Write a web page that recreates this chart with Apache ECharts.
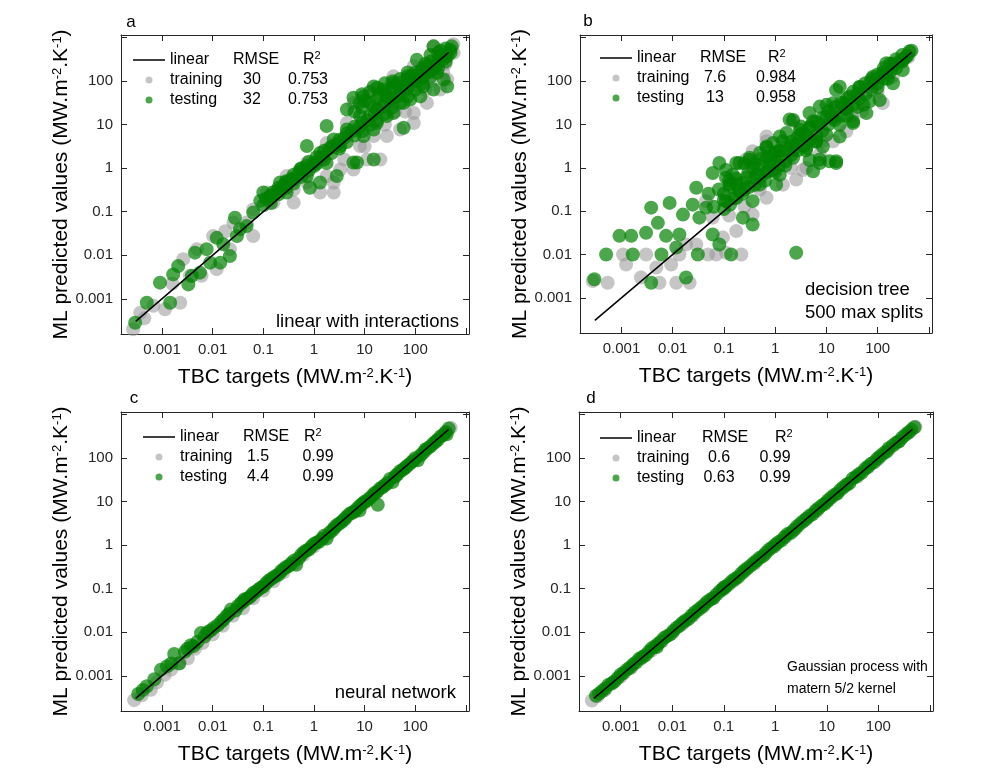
<!DOCTYPE html>
<html>
<head>
<meta charset="utf-8">
<script src="https://cdn.jsdelivr.net/npm/echarts@6/dist/echarts.min.js"></script>
<style>
  html, body { margin: 0; padding: 0; background: #fff; }
  #chart { width: 997px; height: 768px; }
</style>
</head>
<body>
<div id="chart"></div>
<script>
// tick labels, decades -3..2
const tickLabels = ['0.001', '0.01', '0.1', '1', '10', '100'];
const axisMin = 1.55e-4;
const axisMax = 1150;

// panel texts
const panelLetters = ['a', 'b', 'c', 'd'];
const panelNotes = ['linear with interactions', 'decision tree\n500 max splits', 'neural network', 'Gaussian process with\nmatern 5/2 kernel'];
const rmseTrain = ['30', '7.6', '1.5', '0.6'];
const rmseTest = ['32', '13', '4.4', '0.63'];
const r2Train = ['0.753', '0.984', '0.99', '0.99'];
const r2Test = ['0.753', '0.958', '0.99', '0.99'];

// 1:1 line ends (log10 of value)
const lineEnds = [[-3.52, -3.52], [2.66, 2.66]];

// scatter points as [log10 target, log10 predicted]
const aTrain = [[-3.57,-3.70],[-3.43,-3.32],[-3.35,-3.45],[-3.17,-3.16],[-2.94,-3.24],[-2.64,-3.09],[-2.8,-2.65],[-2.58,-2.09],[-2.31,-1.86],[-2.22,-2.47],[-2.45,-2.47],[-1.92,-2.32],[-1.99,-1.56],[-1.66,-1.86],[-1.75,-1.45],[-1.59,-1.25],[-1.33,-1.25],[-1.20,-0.95],[-1.20,-1.56],[-0.93,-0.56],[-0.80,-0.79],[-0.67,-0.49],[-0.54,-0.18],[-0.40,-0.49],[-0.40,-0.79],[-0.2,-0.05],[-0.14,-0.33],[-0.14,0.12],[0.12,-0.56],[0.25,-0.18],[0.25,0.58],[0.39,-0.56],[0.39,-0.33],[0.52,-0.03],[0.65,1.04],[0.78,-0.03],[0.78,1.50],[0.91,0.51],[1.05,0.20],[1.18,0.74],[1.18,1.81],[1.31,0.20],[1.44,0.74],[1.57,2.11],[1.6,1.3],[1.70,0.89],[1.97,1.04],[1.97,1.27],[1.97,2.34],[2.23,1.50],[2.3,2.0],[2.36,2.80],[2.49,1.81],[2.6,2.4],[2.63,2.04],[2.76,2.65],[0.6,0.2],[1.0,0.5],[1.4,1.0],[1.8,1.3],[2.2,1.8],[2.55,2.2],[2.75,2.85]];
const aTest = [[-3.53,-3.55],[-3.30,-3.09],[-3.04,-2.63],[-2.84,-3.09],[-2.78,-2.44],[-2.68,-2.25],[-2.48,-2.67],[-2.41,-2.47],[-2.35,-1.94],[-2.25,-2.40],[-2.12,-1.86],[-2.05,-2.17],[-1.92,-1.60],[-1.85,-2.17],[-1.79,-1.75],[-1.66,-2.02],[-1.56,-1.14],[-1.52,-1.56],[-1.46,-1.40],[-1.33,-1.33],[-1.20,-1.02],[-1.06,-0.75],[-1.00,-0.56],[-0.87,-0.64],[-0.73,-0.53],[-0.67,-0.33],[-0.54,-0.56],[-0.54,-0.33],[-0.40,-0.26],[-0.27,-0.03],[-0.14,-0.18],[-0.14,0.51],[-0.08,-0.45],[-0.01,0.12],[0.12,0.35],[0.12,-0.33],[0.25,0.12],[0.25,0.97],[0.39,0.66],[0.45,-0.18],[0.52,0.51],[0.65,0.89],[0.65,1.35],[0.78,1.62],[0.78,0.13],[0.85,0.13],[0.91,1.20],[0.98,1.65],[0.98,0.74],[1.18,1.42],[1.18,1.88],[1.18,0.89],[1.18,0.20],[1.24,1.04],[1.37,1.81],[1.44,1.65],[1.44,1.20],[1.57,1.96],[1.57,1.27],[1.70,1.88],[1.77,1.50],[1.77,0.93],[1.84,2.11],[1.90,1.58],[1.97,2.11],[2.03,2.49],[2.10,2.23],[2.10,1.65],[2.16,1.88],[2.23,2.34],[2.36,2.27],[2.36,1.81],[2.36,2.80],[2.43,2.19],[2.49,2.57],[2.56,2.04],[2.63,1.88],[2.63,2.57],[2.69,2.72],
  [-1.0,-0.85],[-0.95,-0.7],[-0.85,-0.65],[-0.85,-0.8],[-0.7,-0.6],[-0.7,-0.45],[-0.55,-0.45],[-0.55,-0.3],[-0.4,-0.35],[-0.4,-0.15],[-0.25,-0.2],[-0.25,0.0],[-0.1,-0.05],[-0.1,0.15],[0.05,0.1],[0.05,0.25],[0.2,0.2],[0.2,0.4],[0.35,0.35],[0.35,0.5],[0.5,0.45],[0.5,0.65],[0.65,0.6],[0.65,0.8],[0.8,0.75],[0.8,0.95],[0.8,1.3],[0.95,0.85],[0.95,1.05],[0.95,1.4],[0.95,1.7],[1.1,1.0],[1.1,1.2],[1.1,1.5],[1.1,1.75],[1.25,1.1],[1.25,1.35],[1.25,1.6],[1.25,1.85],[1.4,1.25],[1.4,1.5],[1.4,1.75],[1.4,1.95],[1.55,1.4],[1.55,1.6],[1.55,1.85],[1.55,2.0],[1.7,1.5],[1.7,1.75],[1.7,1.95],[1.7,2.05],[1.85,1.65],[1.85,1.85],[1.85,2.05],[1.85,2.2],[2.0,1.8],[2.0,2.0],[2.0,2.2],[2.15,1.95],[2.15,2.1],[2.15,2.3],[2.3,2.1],[2.3,2.25],[2.3,2.45],[2.3,2.6],[2.45,2.3],[2.45,2.45],[2.45,2.65],[2.6,2.45],[2.6,2.6],[2.6,2.75],[2.7,2.65],[2.72,2.8],
  [0.0,0.05],[0.15,0.25],[0.3,0.45],[0.45,0.55],[0.6,0.7],[0.75,0.85],[0.9,0.95],[1.05,1.1],[1.2,1.25],[1.35,1.4],[1.5,1.55],[1.65,1.65],[1.8,1.8],[1.95,1.9],[2.1,2.05],[2.25,2.2],[2.4,2.35],[2.55,2.5],[1.0,1.55],[1.3,1.7],[1.6,1.9],[1.9,2.1],[2.2,2.4],[2.5,2.7],[0.9,1.5],[-0.8,-0.55],[-0.6,-0.4],[-0.45,-0.25],[-0.3,-0.1],[-0.15,0.05]];

const bTrain = [[-3.56,-2.61],[-3.27,-2.65],[-2.97,-2.00],[-2.91,-2.23],[-2.62,-2.53],[-2.52,-2.00],[-2.32,-2.30],[-2.26,-2.65],[-2.03,-2.23],[-1.93,-2.65],[-1.87,-2.00],[-1.74,-1.77],[-1.67,-2.65],[-1.54,-1.77],[-1.35,-0.77],[-1.31,-2.00],[-1.22,-1.15],[-1.15,-2.00],[-1.02,-1.61],[-0.96,-1.96],[-0.76,-1.46],[-0.66,-2.00],[-0.57,0.19],[-0.44,-1.08],[-0.44,0.38],[-0.17,-0.69],[-0.17,0.61],[-0.17,0.72],[0.15,-0.39],[0.35,1.07],[0.41,-0.27],[0.54,-0.05],[0.61,0.00],[0.87,0.31],[1.13,0.61],[1.39,0.84],[1.7,1.3],[2.10,1.49],[2.3,2.1],[2.6,2.55],[-0.9,-1.1],[-0.6,-0.9],[-0.3,-0.5],[0.3,0.0],[0.9,0.6],[1.5,1.2],[2.0,1.75]];
const bTest = [[-3.53,-2.57],[-3.30,-2.00],[-3.04,-1.57],[-2.81,-1.57],[-2.78,-2.00],[-2.52,-1.50],[-2.42,-0.92],[-2.42,-2.65],[-2.29,-1.27],[-2.22,-2.00],[-2.13,-1.57],[-2.06,-0.81],[-1.93,-1.84],[-1.87,-1.54],[-1.80,-1.08],[-1.74,-2.53],[-1.61,-0.85],[-1.54,-0.46],[-1.51,-2.00],[-1.48,-1.15],[-1.35,-0.92],[-1.3,-0.6],[-1.22,-1.54],[-1.22,-0.12],[-1.2,-0.9],[-1.1,-0.5],[-1.09,0.11],[-1.09,-1.77],[-1.0,-0.6],[-0.96,-0.77],[-0.96,-0.05],[-0.96,-0.23],[-0.9,-0.3],[-0.89,-0.39],[-0.86,-2.00],[-0.83,-0.16],[-0.8,-0.7],[-0.76,0.11],[-0.76,-0.39],[-0.70,-0.54],[-0.70,0.11],[-0.63,-1.15],[-0.6,-0.5],[-0.6,0.1],[-0.57,-0.23],[-0.50,0.23],[-0.50,0.18],[-0.44,-0.77],[-0.44,-1.31],[-0.44,0.00],[-0.4,-0.4],[-0.30,-0.39],[-0.30,0.34],[-0.3,0.05],[-0.2,-0.3],[-0.17,-0.08],[-0.17,0.46],[-0.17,0.49],[-0.1,0.2],[-0.04,0.07],[-0.04,0.57],[0.0,-0.1],[0.0,0.35],[0.02,-0.39],[0.09,0.38],[0.09,0.72],[0.09,-0.16],[0.15,0.61],[0.2,0.05],[0.22,0.80],[0.28,1.11],[0.3,0.5],[0.35,0.23],[0.35,1.10],[0.35,0.41],[0.41,-1.96],[0.48,0.76],[0.48,0.87],[0.5,0.95],[0.6,0.4],[0.61,0.46],[0.67,0.92],[0.67,1.26],[0.67,0.18],[0.74,1.07],[0.74,-0.08],[0.8,0.6],[0.80,0.61],[0.87,0.19],[0.87,1.41],[0.87,0.11],[0.93,0.49],[1.0,0.76],[1.0,1.18],[1.0,1.45],[1.06,0.15],[1.13,1.15],[1.13,1.49],[1.19,0.15],[1.19,1.79],[1.19,0.11],[1.26,0.99],[1.26,1.87],[1.26,0.72],[1.3,1.4],[1.39,1.38],[1.4,1.2],[1.45,1.64],[1.52,1.07],[1.52,1.03],[1.6,1.4],[1.65,1.87],[1.72,1.45],[1.78,1.26],[1.84,1.53],[1.9,2.0],[1.91,2.10],[2.0,1.85],[2.04,1.56],[2.1,2.2],[2.17,2.41],[2.17,2.18],[2.2,2.05],[2.30,1.95],[2.3,2.35],[2.43,2.45],[2.49,2.25],[2.5,2.5],[2.62,2.68],
  [-1.0,-0.95],[-1.0,-0.75],[-0.88,-0.85],[-0.88,-0.45],[-0.76,-0.7],[-0.76,-0.25],[-0.64,-0.6],[-0.64,-0.35],[-0.52,-0.45],[-0.52,-0.1],[-0.4,-0.25],[-0.4,0.1],[-0.28,-0.2],[-0.28,0.2],[-0.16,-0.1],[-0.16,0.25],[-0.04,-0.05],[-0.04,0.3],[0.08,0.05],[0.08,0.4],[0.2,0.15],[0.2,0.45],[0.32,0.3],[0.32,0.6],[0.44,0.4],[0.44,0.7],[0.56,0.5],[0.56,0.8],[0.68,0.65],[0.68,0.95],[0.8,0.75],[0.8,1.05],[0.92,0.85],[0.92,1.15],[1.04,1.0],[1.04,1.3],[1.16,1.1],[1.16,1.4],[1.28,1.2],[1.28,1.5],[1.4,1.35],[1.4,1.6],[1.52,1.45],[1.52,1.75],[1.64,1.6],[1.64,1.85],[1.76,1.7],[1.76,1.95],[1.88,1.8],[1.88,2.05],[2.0,1.95],[2.0,2.15],[2.12,2.05],[2.12,2.3],[2.24,2.2],[2.24,2.4],[2.36,2.3],[2.36,2.5],[2.48,2.45],[2.48,2.6],[2.58,2.58],[2.66,2.7],
  [1.1,1.2],[1.35,1.5],[1.6,1.7],[1.85,1.95],[2.05,2.1],[2.3,2.4],[2.55,2.55],[0.4,0.55],[0.6,0.75],[0.85,1.0],[0.1,0.25],[-0.1,0.05],[-0.35,-0.15]];

const cTrain = [[-3.55,-3.56],[-3.4,-3.45],[-3.22,-3.32],[-3.1,-3.15],[-2.95,-2.98],[-2.82,-2.86],[-2.65,-2.7],[-2.49,-2.6],[-2.35,-2.38],[-2.2,-2.25],[-2.0,-2.05],[-1.8,-1.85],[-1.6,-1.62],[-1.4,-1.45],[-1.2,-1.22],[-1.0,-1.04],[-0.8,-0.83],[-0.6,-0.62],[-0.4,-0.43],[-0.2,-0.22],[0.0,-0.03],[0.2,0.17],[0.4,0.37],[0.6,0.58],[0.8,0.77],[1.0,0.97],[1.2,1.17],[1.4,1.37],[1.6,1.57],[1.8,1.77],[2.0,1.97],[2.2,2.17],[2.4,2.37],[2.6,2.58],[2.7,2.7]];
const cTest = [[-3.47,-3.42],[-3.3,-3.24],[-3.02,-2.86],[-2.9,-2.78],[-2.76,-2.5],[-2.66,-2.72],[-2.55,-2.45],[-2.43,-2.3],[-2.3,-2.22],[-2.23,-2.02],[-2.1,-2.0],[-1.98,-1.9],[-1.83,-1.76],[-1.72,-1.62],[-1.64,-1.48],[-1.55,-1.5],[-1.45,-1.34],[-1.4,-1.3],[-1.37,-1.24],[-1.28,-1.2],[-1.2,-1.1],[-1.1,-1.02],[-1.0,-0.95],[-0.9,-0.82],[-0.8,-0.74],[-0.7,-0.68],[-0.6,-0.55],[-0.5,-0.48],[-0.4,-0.36],[-0.35,-0.45],[-0.3,-0.3],[-0.2,-0.16],[-0.1,-0.1],[0.0,0.03],[0.1,0.08],[0.2,0.22],[0.25,0.15],[0.3,0.28],[0.4,0.4],[0.5,0.5],[0.6,0.6],[0.7,0.72],[0.8,0.78],[0.9,0.9],[0.9,0.8],[1.0,1.0],[1.1,1.08],[1.2,1.2],[1.26,0.93],[1.3,1.3],[1.4,1.38],[1.5,1.52],[1.55,1.45],[1.6,1.58],[1.7,1.7],[1.8,1.78],[1.9,1.88],[2.0,2.0],[2.05,1.95],[2.1,2.06],[2.2,2.2],[2.3,2.27],[2.4,2.38],[2.5,2.5],[2.6,2.6],[2.62,2.55],[2.66,2.68],
  [-3.38,-3.33],[-3.15,-3.08],[-2.82,-2.72],[-2.5,-2.38],[-2.38,-2.32],[-2.16,-2.1],[-2.04,-1.96],[-1.9,-1.84],[-1.78,-1.7],[-1.68,-1.58],[-1.5,-1.4],[-1.33,-1.24],[-1.24,-1.16],[-1.15,-1.07],[-1.05,-0.98],[-0.95,-0.88],[-0.85,-0.78],[-0.75,-0.7],[-0.65,-0.6],[-0.55,-0.5],[-0.45,-0.42],[-0.25,-0.22],[-0.15,-0.12],[-0.05,-0.03],[0.05,0.06],[0.15,0.14],[0.35,0.33],[0.45,0.46],[0.55,0.54],[0.65,0.66],[0.75,0.74],[0.85,0.84],[0.95,0.95],[1.05,1.03],[1.15,1.14],[1.25,1.23],[1.35,1.33],[1.45,1.43],[1.65,1.63],[1.75,1.73],[1.85,1.83],[1.95,1.93],[2.15,2.12],[2.25,2.23],[2.35,2.33],[2.45,2.43],[2.55,2.53]];

const dTrain = [[-3.56,-3.57],[-3.45,-3.47],[-3.3,-3.33],[-3.15,-3.16],[-3.0,-3.02],[-2.8,-2.82],[-2.6,-2.61],[-2.4,-2.42],[-2.2,-2.21],[-2.0,-2.02],[-1.8,-1.81],[-1.6,-1.62],[-1.4,-1.41],[-1.2,-1.22],[-1.0,-1.01],[-0.8,-0.82],[-0.6,-0.61],[-0.4,-0.42],[-0.2,-0.21],[0.0,-0.02],[0.2,0.19],[0.4,0.38],[0.6,0.59],[0.8,0.78],[1.0,0.99],[1.2,1.18],[1.4,1.39],[1.6,1.58],[1.8,1.79],[2.0,1.98],[2.2,2.19],[2.4,2.38],[2.6,2.59],[2.72,2.72]];
const dTest = [[-3.48,-3.46],[-3.36,-3.35],[-3.24,-3.21],[-3.12,-3.13],[-3.0,-2.97],[-2.88,-2.86],[-2.76,-2.74],[-2.64,-2.61],[-2.52,-2.53],[-2.4,-2.37],[-2.3,-2.34],[-2.28,-2.27],[-2.16,-2.13],[-2.04,-2.05],[-1.92,-1.9],[-1.8,-1.78],[-1.68,-1.69],[-1.56,-1.54],[-1.44,-1.43],[-1.32,-1.3],[-1.2,-1.21],[-1.08,-1.06],[-1.0,-0.97],[-0.96,-0.95],[-0.84,-0.82],[-0.72,-0.73],[-0.6,-0.58],[-0.48,-0.47],[-0.36,-0.35],[-0.24,-0.25],[-0.12,-0.1],[0.0,0.01],[0.12,0.11],[0.24,0.26],[0.3,0.28],[0.36,0.35],[0.48,0.49],[0.6,0.61],[0.72,0.71],[0.84,0.85],[0.96,0.95],[1.08,1.09],[1.2,1.19],[1.32,1.33],[1.44,1.43],[1.5,1.53],[1.56,1.57],[1.68,1.67],[1.8,1.81],[1.92,1.91],[2.04,2.05],[2.16,2.15],[2.2,2.23],[2.28,2.29],[2.4,2.39],[2.52,2.53],[2.64,2.65],[2.7,2.71],
  [-3.42,-3.41],[-3.3,-3.29],[-3.18,-3.18],[-3.06,-3.05],[-2.94,-2.93],[-2.82,-2.81],[-2.7,-2.69],[-2.58,-2.57],[-2.46,-2.45],[-2.34,-2.33],[-2.22,-2.21],[-2.1,-2.09],[-1.98,-1.97],[-1.86,-1.85],[-1.74,-1.73],[-1.62,-1.61],[-1.5,-1.49],[-1.38,-1.37],[-1.26,-1.25],[-1.14,-1.13],[-1.02,-1.01],[-0.9,-0.89],[-0.78,-0.77],[-0.66,-0.65],[-0.54,-0.53],[-0.42,-0.41],[-0.3,-0.29],[-0.18,-0.17],[-0.06,-0.05],[0.06,0.07],[0.18,0.19],[0.42,0.43],[0.54,0.55],[0.66,0.67],[0.78,0.79],[0.9,0.91],[1.02,1.03],[1.14,1.15],[1.26,1.27],[1.38,1.39],[1.62,1.63],[1.74,1.75],[1.86,1.87],[1.98,1.99],[2.1,2.11],[2.34,2.35],[2.46,2.47],[2.58,2.59]];

const trainSets = [aTrain, bTrain, cTrain, dTrain];
const testSets = [aTest, bTest, cTest, dTest];

// layout
const FONT = 'Liberation Sans';
const grids = [
  { left: 121, top: 35, width: 348, height: 299 },
  { left: 580, top: 35, width: 352, height: 298 },
  { left: 121, top: 412, width: 348, height: 299 },
  { left: 579, top: 412, width: 354, height: 299 }
];
// legend: icon left, top; name origin, header starts, value column centres
const legendPos = [
  { left: 133, top: 50, org: 170, h1: 233, h2: 303, c1: 252, c2: 308 },
  { left: 600, top: 48, org: 637, h1: 700, h2: 768, c1: 715, c2: 776 },
  { left: 143, top: 427, org: 180, h1: 243, h2: 304, c1: 258, c2: 318 },
  { left: 600, top: 428, org: 637, h1: 702, h2: 775, c1: 719, c2: 775 }
];
const letterPos = [[131, 22], [588, 21], [134, 398], [591, 398]];
const notePos = [
  { x: 459, y: 322, align: 'right', size: 18.5, lh: 23 },
  { x: 805, y: 290, align: 'left', size: 18.5, lh: 23 },
  { x: 456, y: 693, align: 'right', size: 18.5, lh: 23 },
  { x: 787, y: 667, align: 'left', size: 14, lh: 22 }
];

const toVal = p => [Math.pow(10, p[0]), Math.pow(10, p[1])];

function fmtTick(v) {
  const e = Math.log10(v);
  const k = Math.round(e);
  if (Math.abs(e - k) > 1e-6 || k < -3 || k > 2) return '';
  return tickLabels[k + 3];
}

const supRich = { s: { fontSize: 13, verticalAlign: 'top', lineHeight: 12, fontFamily: FONT, color: '#000' } };

function makeAxis(i, pos, isX) {
  const showLab = pos === 'bottom' || pos === 'left';
  const ax = {
    type: 'log', logBase: 10, gridIndex: i, position: pos,
    min: axisMin, max: axisMax, splitNumber: 7,
    axisLine: { show: true, onZero: false, lineStyle: { color: '#262626', width: 1 } },
    axisTick: { show: true, inside: true, length: 6, lineStyle: { color: '#262626', width: 1 } },
    axisLabel: {
      show: showLab, formatter: fmtTick, showMinLabel: false, showMaxLabel: false,
      margin: 8, fontSize: 15, color: '#262626', fontFamily: FONT
    },
    splitLine: { show: false },
    minorTick: { show: false }
  };
  if (showLab) {
    ax.nameLocation = 'middle';
    ax.nameTextStyle = { fontSize: 21, color: '#000', fontFamily: FONT, rich: supRich };
    if (isX) {
      ax.name = 'TBC targets (MW.m{s|-2}.K{s|-1})';
      ax.nameGap = 33;
    } else {
      ax.name = 'ML predicted values (MW.m{s|-2}.K{s|-1})';
      ax.nameGap = 46;
    }
  }
  return ax;
}

const xAxes = [], yAxes = [], series = [], legends = [], graphics = [];
for (let i = 0; i < 4; i++) {
  xAxes.push(makeAxis(i, 'bottom', true), makeAxis(i, 'top', true));
  yAxes.push(makeAxis(i, 'left', false), makeAxis(i, 'right', false));
  series.push({
    name: 'training', type: 'scatter', xAxisIndex: 2 * i, yAxisIndex: 2 * i,
    data: trainSets[i].map(toVal), symbolSize: 14,
    itemStyle: { color: 'rgb(150,150,150)', opacity: 0.55 }
  });
  series.push({
    name: 'testing', type: 'scatter', xAxisIndex: 2 * i, yAxisIndex: 2 * i,
    data: testSets[i].map(toVal), symbolSize: 14,
    itemStyle: { color: 'rgb(0,128,0)', opacity: 0.7 }
  });
  series.push({
    name: 'linear', type: 'line', xAxisIndex: 2 * i, yAxisIndex: 2 * i,
    data: lineEnds.map(toVal), symbol: 'none', z: 5,
    lineStyle: { color: '#000', width: 1.5 }, itemStyle: { color: '#000' }
  });

  const L = legendPos[i];
  const nameW = L.c1 - 20 - L.org;
  const v2W = 2 * (L.c2 - (L.c1 + 20));
  legends.push({
    left: L.left, top: L.top, orient: 'vertical', padding: 0,
    itemWidth: 32, itemHeight: 7, itemGap: 4, selectedMode: false,
    data: [
      { name: 'linear', icon: 'path://M0,0 L32,0 L32,1.5 L0,1.5 Z' },
      { name: 'training' },
      { name: 'testing' }
    ],
    textStyle: {
      fontSize: 16, color: '#000', fontFamily: FONT,
      rich: {
        hn: { width: L.h1 - L.org, fontSize: 16, lineHeight: 20, fontFamily: FONT },
        h1: { width: L.h2 - L.h1, fontSize: 16, lineHeight: 20, fontFamily: FONT },
        h2: { fontSize: 16, lineHeight: 20, fontFamily: FONT },
        s: { fontSize: 11, verticalAlign: 'top', lineHeight: 12, fontFamily: FONT },
        n: { width: nameW, fontSize: 16, lineHeight: 20, fontFamily: FONT },
        v1: { width: 40, align: 'center', fontSize: 16, lineHeight: 20, fontFamily: FONT },
        v2: { width: v2W, align: 'center', fontSize: 16, lineHeight: 20, fontFamily: FONT }
      }
    },
    formatter: (function (k) {
      return function (name) {
        if (name === 'linear') return '{hn|linear}{h1|RMSE}{h2|R}{s|2}';
        if (name === 'training') return '{n|training}{v1|' + rmseTrain[k] + '}{v2|' + r2Train[k] + '}';
        return '{n|testing}{v1|' + rmseTest[k] + '}{v2|' + r2Test[k] + '}';
      };
    })(i)
  });

  graphics.push({
    type: 'text', x: letterPos[i][0], y: letterPos[i][1],
    style: { text: panelLetters[i], font: '17px ' + FONT, fill: '#000', textAlign: 'center', textVerticalAlign: 'middle' }
  });
  const N = notePos[i];
  graphics.push({
    type: 'text', x: N.x, y: N.y - N.lh / 2,
    style: {
      text: panelNotes[i], font: N.size + 'px ' + FONT, fill: '#000', lineHeight: N.lh,
      textAlign: N.align, textVerticalAlign: 'top'
    }
  });
}

const chart = echarts.init(document.getElementById('chart'));
chart.setOption({
  backgroundColor: '#fff',
  animation: false,
  grid: grids.map(g => Object.assign({ containLabel: false, outerBoundsMode: 'none' }, g)),
  xAxis: xAxes,
  yAxis: yAxes,
  legend: legends,
  series: series,
  graphic: graphics
});
</script>
</body>
</html>
